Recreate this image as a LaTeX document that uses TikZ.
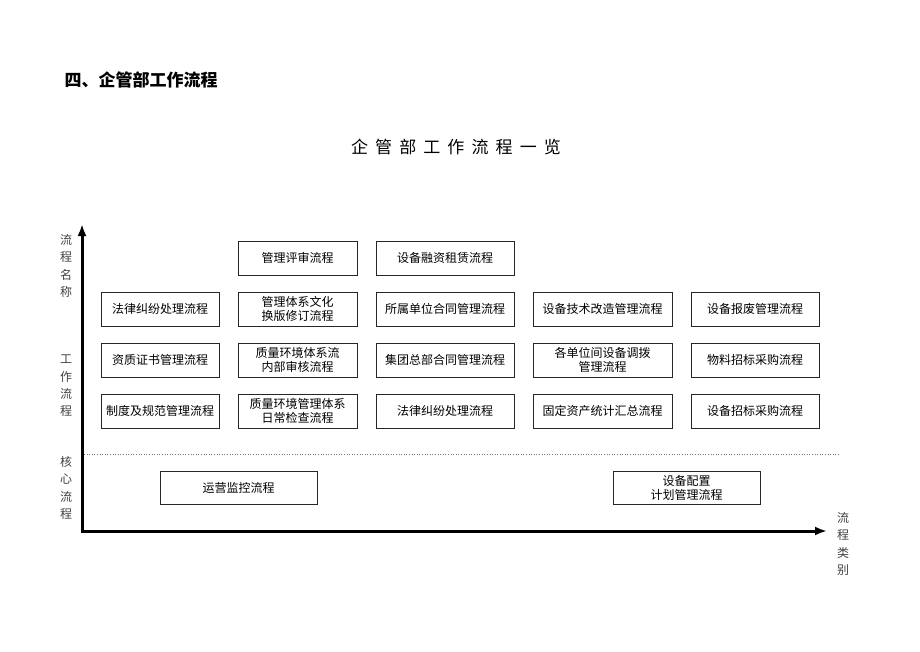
\documentclass[tikz,border=0pt]{standalone}
\usepackage{fontspec}
\setmainfont{Noto Sans CJK SC}
\usepackage{tikz}
\usetikzlibrary{arrows.meta}
\usetikzlibrary{calc}
\tikzset{>=latex}
\tikzset{
    procbox/.style={draw=black!85, line width=0.8pt, minimum height=34pt, inner sep=1pt,
        align=center, font=\fontsize{12}{14}\selectfont},
    axislabel/.style={align=center, text=black!75, font=\fontsize{12}{17.3}\selectfont},
    axisline/.style={line width=3pt, line join=miter, {Latex[length=12pt,width=9pt]}-{Latex[length=12pt,width=9pt]}}
}
\def\gap{\hspace{7.1pt}}

\begin{document}
\begin{tikzpicture}[x=1pt, y=-1pt]
    \useasboundingbox (0,0) rectangle (920,651);

    \def\cA{160}
    \def\cB{297.5}
    \def\cC{445}
    \def\cD{602.5}
    \def\cE{755}

    % Headings
    \node[anchor=west, font=\fontsize{17}{17}\selectfont\bfseries] (head) at (61,80) {四、企管部工作流程};
    \node[font=\fontsize{17}{17}\selectfont] (title) at (456,147) {企\gap 管\gap 部\gap 工\gap 作\gap 流\gap 程\gap 一\gap 览};

    % Axes
    \coordinate (O) at (82,531);
    \coordinate (YT) at (82,224);
    \coordinate (XT) at (827,531);
    \draw[axisline] (YT) -- (O) -- (XT);

    % Separator
    \coordinate (SL) at (84,454);
    \coordinate (SR) at (840,454);
    \draw[black!55, line width=0.6pt, dotted] (SL) -- (SR);

    % Axis labels
    \node[axislabel] (lblname) at (66,266) {流\\程\\名\\称};
    \node[axislabel] (lblwork) at (66,386) {工\\作\\流\\程};
    \node[axislabel] (lblcore) at (66,488) {核\\心\\流\\程};
    \node[axislabel] (lblkind) at (843,544) {流\\程\\类\\别};

    % Work processes
    \node[procbox, minimum width=119pt] (r0b) at (\cB,258) {管理评审流程};
    \node[procbox, minimum width=138pt] (r0c) at (\cC,258) {设备融资租赁流程};

    \node[procbox, minimum width=118pt] (r1a) at (\cA,309) {法律纠纷处理流程};
    \node[procbox, minimum width=119pt] (r1b) at (\cB,309) {管理体系文化\\换版修订流程};
    \node[procbox, minimum width=138pt] (r1c) at (\cC,309) {所属单位合同管理流程};
    \node[procbox, minimum width=139pt] (r1d) at (\cD,309) {设备技术改造管理流程};
    \node[procbox, minimum width=128pt] (r1e) at (\cE,309) {设备报废管理流程};

    \node[procbox, minimum width=118pt] (r2a) at (\cA,360) {资质证书管理流程};
    \node[procbox, minimum width=119pt] (r2b) at (\cB,360) {质量环境体系流\\内部审核流程};
    \node[procbox, minimum width=138pt] (r2c) at (\cC,360) {集团总部合同管理流程};
    \node[procbox, minimum width=139pt] (r2d) at (\cD,360) {各单位间设备调拨\\管理流程};
    \node[procbox, minimum width=128pt] (r2e) at (\cE,360) {物料招标采购流程};

    \node[procbox, minimum width=118pt] (r3a) at (\cA,411) {制度及规范管理流程};
    \node[procbox, minimum width=119pt] (r3b) at (\cB,411) {质量环境管理体系\\日常检查流程};
    \node[procbox, minimum width=138pt] (r3c) at (\cC,411) {法律纠纷处理流程};
    \node[procbox, minimum width=139pt] (r3d) at (\cD,411) {固定资产统计汇总流程};
    \node[procbox, minimum width=128pt] (r3e) at (\cE,411) {设备招标采购流程};

    % Core processes
    \node[procbox, minimum width=157pt, minimum height=33pt] (core1) at (238.5,487.5) {运营监控流程};
    \node[procbox, minimum width=147pt, minimum height=33pt] (core2) at (686.5,487.5) {设备配置\\计划管理流程};
\end{tikzpicture}
\end{document}
